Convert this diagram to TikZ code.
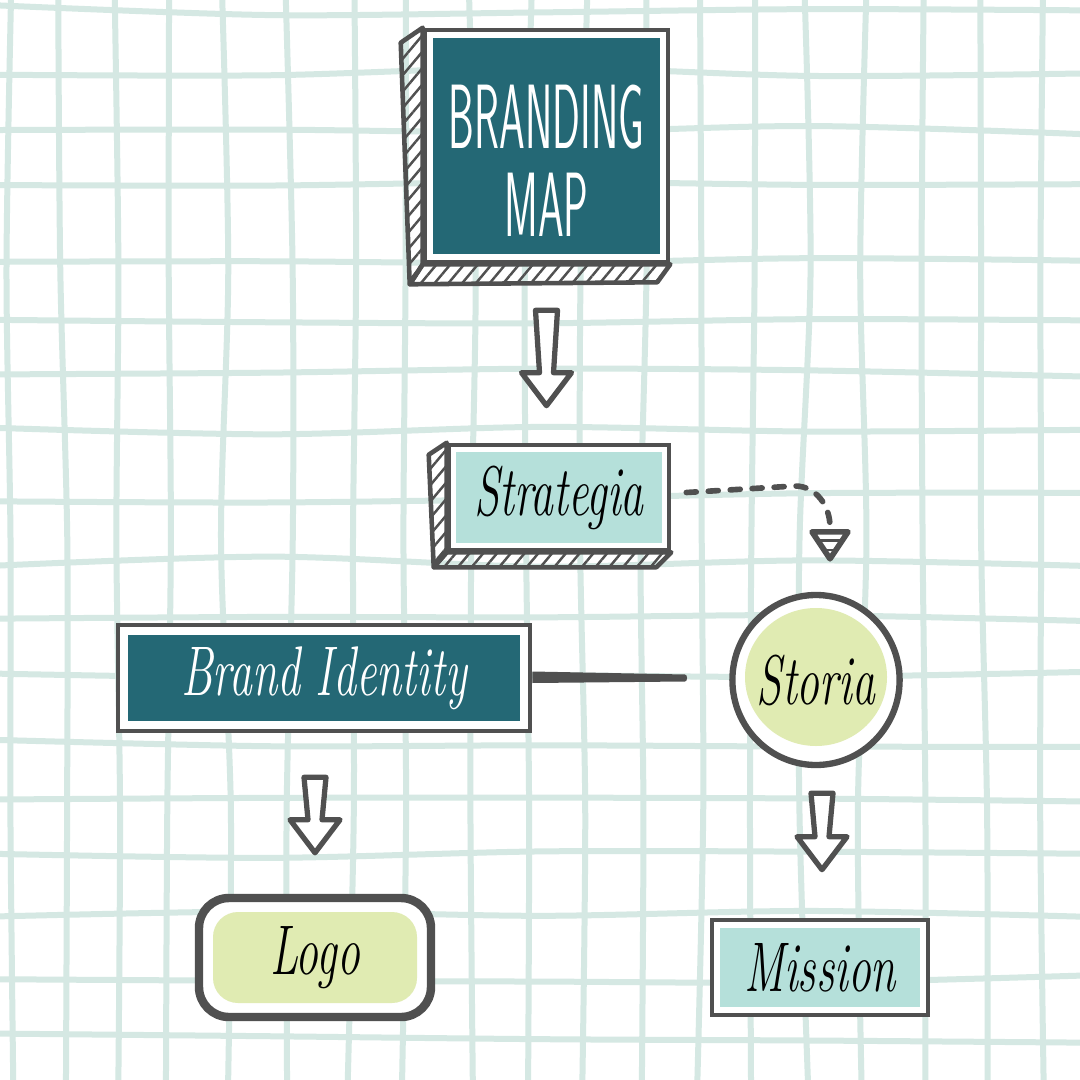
\documentclass[tikz,border=0pt]{standalone}
\usepackage{graphicx}
\usetikzlibrary{positioning,calc,shapes.geometric,patterns.meta}

\definecolor{ink}{HTML}{505050}
\definecolor{deepteal}{HTML}{246875}
\definecolor{paleteal}{HTML}{B5E0DA}
\definecolor{palelime}{HTML}{E0EBB2}
\definecolor{gridc}{HTML}{D5E8E3}

\newcommand{\squeeze}[1]{\scalebox{0.45}[1]{#1}}
\newcommand{\narrow}[1]{\scalebox{0.65}[1]{#1}}

\tikzset{
  gridline/.style={draw=gridc, line width=0.06cm, line cap=round},
  outline/.style={draw=ink, line width=1.3pt},
  facebox/.style={outline, rectangle, fill=white, inner sep=0pt},
  inset/.style 2 args={path picture={\fill[#1] ([shift={(#2,-#2)}]path picture bounding box.north west) rectangle ([shift={(-#2,#2)}]path picture bounding box.south east);}},
  handtext/.style={font=\fontsize{20}{24}\selectfont\itshape},
  slab/.style={outline, pattern={Lines[angle=50, distance=3pt, line width=0.7pt]}, pattern color=ink, line join=round},
  dashline/.style={draw=ink, line width=1.6pt, line cap=round, dash pattern=on 0.1cm off 0.12cm},
  hollowarrow/.style={draw=ink, line width=1.5pt, fill=white, line join=round,
    to path={let \p1=(\tikztostart), \p2=(\tikztotarget) in
      (\x1-0.11cm,\y1) -- (\x1-0.07cm,\y2+0.33cm) -- (\x1-0.25cm,\y2+0.33cm) -- (\x1,\y2)
      -- (\x1+0.25cm,\y2+0.33cm) -- (\x1+0.07cm,\y2+0.33cm) -- (\x1+0.11cm,\y1) -- cycle}}
}

\begin{document}
\begin{tikzpicture}
        \useasboundingbox (0,0) rectangle (10.8,-10.8);
        \fill[white] (0,0) rectangle (10.8,-10.8);

        % hand drawn grid paper
        \pgfmathsetseed{42}
        \foreach \gx in {0.10,0.62,1.15,1.70,2.25,2.90,3.52,4.05,4.70,5.30,5.85,6.44,7.00,7.55,8.05,8.62,9.25,9.85,10.43} {
            \pgfmathsetmacro\ja{\gx+0.05*rand}
            \pgfmathsetmacro\jb{\gx+0.06*rand}
            \pgfmathsetmacro\jc{\gx+0.06*rand}
            \pgfmathsetmacro\jd{\gx+0.06*rand}
            \pgfmathsetmacro\je{\gx+0.05*rand}
            \draw[gridline] plot[smooth] coordinates {(\ja,0.1) (\jb,-2.7) (\jc,-5.4) (\jd,-8.1) (\je,-10.9)};
        }
        \foreach \gy in {0.10,0.72,1.32,1.87,2.58,3.18,3.74,4.30,4.97,5.62,6.20,6.72,7.42,7.97,8.54,9.12,9.78,10.38} {
            \pgfmathsetmacro\ja{-\gy+0.05*rand}
            \pgfmathsetmacro\jb{-\gy+0.06*rand}
            \pgfmathsetmacro\jc{-\gy+0.06*rand}
            \pgfmathsetmacro\jd{-\gy+0.06*rand}
            \pgfmathsetmacro\je{-\gy+0.05*rand}
            \draw[gridline] plot[smooth] coordinates {(-0.1,\ja) (2.7,\jb) (5.4,\jc) (8.1,\jd) (10.9,\je)};
        }

        % boxes
        \node[facebox, inset={deepteal}{0.08}, minimum width=2.43cm, minimum height=2.32cm] (brand) at (5.465,-1.46) {};
        \node[text=white, align=center, font=\sffamily\fontsize{26}{25}\selectfont] (brandlabel) at ([yshift=-0.15cm]brand.center) {\squeeze{BRANDING}\\\squeeze{MAP}};

        \node[facebox, inset={paleteal}{0.07}, handtext, minimum width=2.2cm, minimum height=1.05cm] (strat) at (5.59,-4.975) {\narrow{Strategia}};

        \node[facebox, inset={deepteal}{0.1}, handtext, text=white, minimum width=4.12cm, minimum height=1.06cm] (ident) at (3.24,-6.78) {\narrow{Brand Identity}};

        \node[ellipse, draw=ink, line width=1.8pt, fill=white, inner sep=0pt, handtext, minimum width=1.62cm, minimum height=1.7cm,
              path picture={\fill[palelime] ([yshift=0.03cm]path picture bounding box.center) ellipse (0.71cm and 0.69cm);}] (storia) at (8.16,-6.8) {\narrow{Storia}};

        \node[rectangle, draw=ink, line width=2.4pt, rounded corners=0.3cm, fill=white, inner sep=0pt, handtext, minimum width=2.32cm, minimum height=1.19cm,
              path picture={\fill[palelime, rounded corners=0.25cm] ([shift={(0.14,-0.14)}]path picture bounding box.north west) rectangle ([shift={(-0.14,0.14)}]path picture bounding box.south east);}] (logo) at (3.15,-9.575) {\narrow{Logo}};

        \node[facebox, inset={paleteal}{0.08}, handtext, minimum width=2.16cm, minimum height=0.95cm] (mission) at (8.2,-9.675) {\narrow{Mission}};

        % 3d slabs
        \draw[slab] (brand.north west) -- ++(-0.22,-0.15) -- ([shift={(-0.13,-0.2)}]brand.south west) -- (brand.south west) -- cycle;
        \draw[slab] (brand.south west) -- ++(-0.13,-0.2) -- ([shift={(-0.13,-0.18)}]brand.south east) -- (brand.south east) -- cycle;
        \draw[slab] (strat.north west) -- ++(-0.18,-0.12) -- ([shift={(-0.13,-0.15)}]strat.south west) -- (strat.south west) -- cycle;
        \draw[slab] (strat.south west) -- ++(-0.13,-0.15) -- ([shift={(-0.15,-0.15)}]strat.south east) -- (strat.south east) -- cycle;

        % connectors
        \draw[hollowarrow] ([yshift=-0.46cm]brand.south) to ([yshift=0.37cm]strat.north);
        \draw[hollowarrow] ([shift={(-0.09,-0.44)}]ident.south) to ([yshift=0.41cm]logo.north);
        \draw[hollowarrow] ([shift={(0.06,-0.25)}]storia.south) to ([yshift=0.48cm]mission.north);

        \coordinate (dashend) at ([shift={(0.14,0.65)}]storia.north);
        \draw[dashline] ([shift={(0.15,0.05)}]strat.east) -- (7.95,-4.86) to[out=0,in=90] (dashend);
        \draw[draw=ink, line width=1.6pt, line join=round, pattern={Lines[angle=0, distance=2.6pt, line width=0.8pt]}, pattern color=ink]
            ([shift={(-0.18,-0.05)}]dashend) -- ([shift={(0.18,-0.05)}]dashend) -- ([yshift=-0.32cm]dashend) -- cycle;

        \coordinate (brushend) at (6.85,-6.78);
        \fill[ink] ([yshift=0.065cm]ident.east) -- ([yshift=0.035cm]brushend) to[out=0,in=0] ([yshift=-0.035cm]brushend) -- ([yshift=-0.05cm]ident.east) -- cycle;
\end{tikzpicture}
\end{document}
